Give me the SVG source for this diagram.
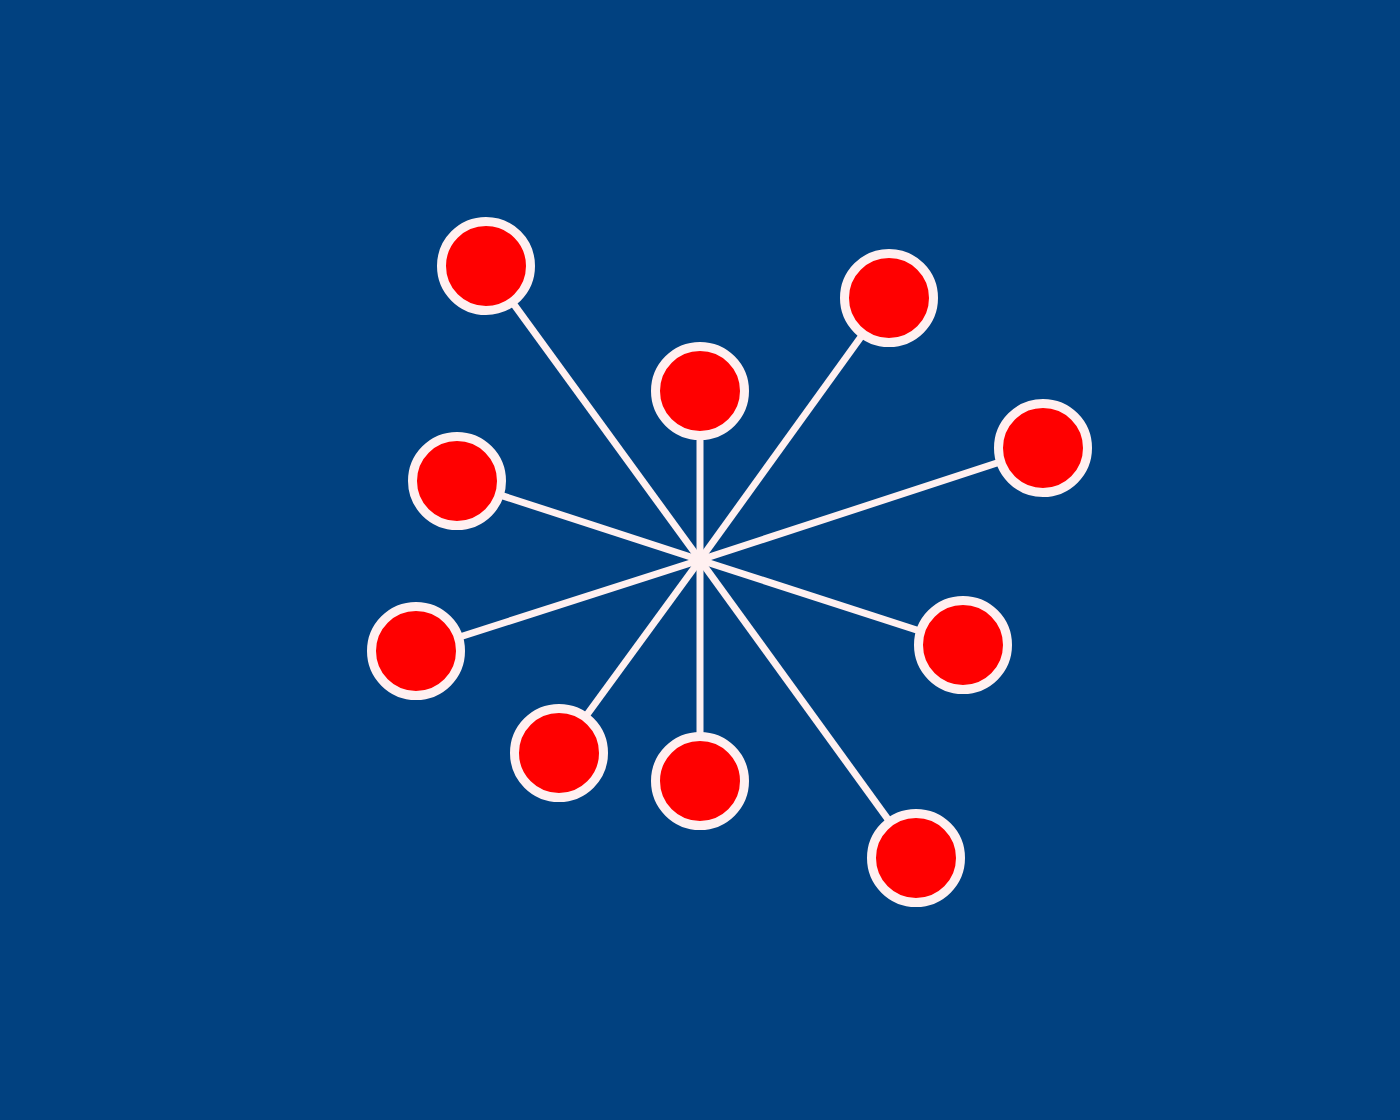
<svg xmlns="http://www.w3.org/2000/svg" width="1400" height="1120" viewBox="0 0 1400 1120">
<style>
.edge{stroke:#fff0f0;stroke-width:7;stroke-linecap:butt;fill:none}
.node{fill:#ff0000;stroke:#fff0f0;stroke-width:9}
</style>
<rect x="0" y="0" width="1400" height="1120" fill="#014180"/>
<g id="connectors">
<line class="edge" x1="700" y1="560" x2="486" y2="266"/>
<line class="edge" x1="700" y1="560" x2="889" y2="298"/>
<line class="edge" x1="700" y1="560" x2="700" y2="391"/>
<line class="edge" x1="700" y1="560" x2="1043" y2="448"/>
<line class="edge" x1="700" y1="560" x2="457" y2="481"/>
<line class="edge" x1="700" y1="560" x2="416" y2="651"/>
<line class="edge" x1="700" y1="560" x2="963" y2="645"/>
<line class="edge" x1="700" y1="560" x2="559" y2="753"/>
<line class="edge" x1="700" y1="560" x2="700" y2="781"/>
<line class="edge" x1="700" y1="560" x2="916" y2="858"/>
<circle cx="700" cy="560" r="9" fill="#fff0f0"/>
</g>
<g id="n1"><circle class="node" cx="486" cy="266" r="44.5"/></g>
<g id="n2"><circle class="node" cx="889" cy="298" r="44.5"/></g>
<g id="n3"><circle class="node" cx="700" cy="391" r="44.5"/></g>
<g id="n4"><circle class="node" cx="1043" cy="448" r="44.5"/></g>
<g id="n5"><circle class="node" cx="457" cy="481" r="44.5"/></g>
<g id="n6"><circle class="node" cx="416" cy="651" r="44.5"/></g>
<g id="n7"><circle class="node" cx="963" cy="645" r="44.5"/></g>
<g id="n8"><circle class="node" cx="559" cy="753" r="44.5"/></g>
<g id="n9"><circle class="node" cx="700" cy="781" r="44.5"/></g>
<g id="n10"><circle class="node" cx="916" cy="858" r="44.5"/></g>
</svg>
